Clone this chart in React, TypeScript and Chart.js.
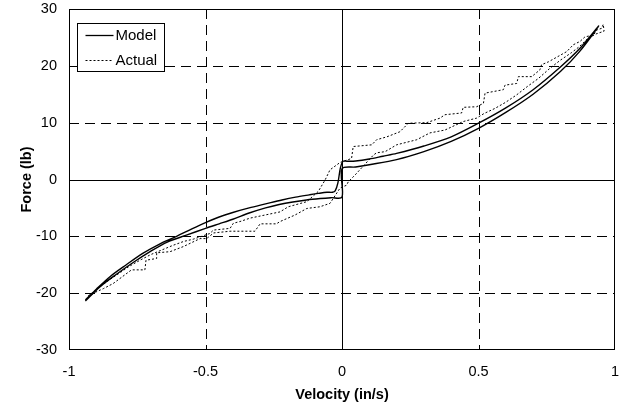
import React, { useEffect, useRef } from 'react';
import { Chart, registerables } from 'chart.js';

Chart.register(...registerables);

// ---- data ----
const seriesNames = ['Model', 'Actual'];
const xTitle = 'Velocity (in/s)';
const yTitle = 'Force (lb)';

const xTickValues = [-1, -0.5, 0, 0.5, 1];
const xTickLabels = ['-1', '-0.5', '0', '0.5', '1'];
const yTickValues = [-30, -20, -10, 0, 10, 20, 30];
const yTickLabels = ['-30', '-20', '-10', '0', '10', '20', '30'];

// Model hysteresis loop: upper branch (increasing velocity) then lower branch back
const modelVelocity = [
  -0.94, -0.9, -0.85, -0.79, -0.73, -0.67, -0.606, -0.55, -0.5, -0.45, -0.4, -0.34, -0.28, -0.22, -0.17, -0.12,
  -0.087, -0.055, -0.035, -0.025, -0.015, -0.006, 0.004, 0.02, 0.05, 0.1, 0.15, 0.2, 0.3, 0.4, 0.5, 0.6, 0.7,
  0.8, 0.87, 0.94,
  0.87, 0.8, 0.7, 0.6, 0.5, 0.4, 0.3, 0.2, 0.1, 0.05, 0.0, 0.0, -0.04, -0.08, -0.13, -0.18, -0.23, -0.28, -0.34,
  -0.4, -0.45, -0.5, -0.57, -0.64, -0.7, -0.765, -0.83, -0.887, -0.94,
];
const modelForce = [
  -21.2, -19.3, -17.1, -15.0, -13.0, -11.4, -10.0, -8.7, -7.6, -6.6, -5.8, -5.0, -4.3, -3.6, -3.1, -2.7,
  -2.45, -2.25, -2.25, -2.0, -0.6, 2.0, 3.2, 3.2, 3.25, 3.6, 4.1, 4.6, 5.9, 7.5, 9.9, 12.6, 15.8,
  19.8, 23.0, 27.0,
  22.5, 19.0, 15.0, 11.8, 9.0, 6.7, 4.9, 3.5, 2.6, 2.2, 1.9, -3.1, -3.2, -3.35, -3.6, -3.95, -4.4, -5.0, -5.9,
  -7.0, -7.8, -8.6, -9.8, -11.0, -12.6, -14.6, -16.8, -18.9, -21.4,
];

// Measured (stepped) loop
const actualVelocity = [
  -0.93, -0.89, -0.85, -0.81, -0.78, -0.74, -0.7, -0.66, -0.62, -0.58, -0.545, -0.514, -0.484, -0.471, -0.41,
  -0.398, -0.374, -0.337, -0.227, -0.197, -0.129, -0.087, -0.062, -0.044, -0.007, 0.035, 0.041, 0.109, 0.127,
  0.164, 0.212, 0.243, 0.31, 0.359, 0.377, 0.438, 0.444, 0.493, 0.518, 0.524, 0.591, 0.597, 0.64, 0.646, 0.695,
  0.725, 0.731, 0.756, 0.823, 0.847, 0.872, 0.89, 0.921, 0.933, 0.951, 0.957,
  0.96, 0.93, 0.9, 0.87, 0.84, 0.8, 0.76, 0.72, 0.68, 0.64, 0.6, 0.56, 0.52, 0.493, 0.444, 0.377, 0.322, 0.274,
  0.2, 0.158, 0.127, 0.115, 0.048, 0.023, 0.017, -0.007, -0.044, -0.081, -0.129, -0.172, -0.227, -0.24, -0.3,
  -0.319, -0.41, -0.47, -0.496, -0.52, -0.581, -0.63, -0.679, -0.679, -0.718, -0.722, -0.771, -0.838, -0.874,
  -0.911, -0.93,
];
const actualForce = [
  -20.5, -19.0, -17.6, -16.3, -15.3, -14.2, -13.2, -12.4, -11.6, -10.9, -10.5, -10.0, -9.5, -8.9, -8.6,
  -7.7, -7.4, -6.8, -5.7, -4.8, -3.9, -2.1, -0.1, 1.7, 3.0, 3.7, 5.8, 6.1, 7.0,
  7.5, 8.4, 9.9, 10.0, 10.8, 11.4, 11.7, 12.7, 12.8, 13.4, 15.2, 15.8, 16.6, 16.9, 18.1, 18.1,
  19.3, 20.2, 20.7, 22.5, 23.7, 24.3, 25.1, 25.4, 26.3, 26.6, 27.3,
  26.1, 25.6, 24.8, 23.4, 22.3, 21.0, 19.5, 17.8, 16.4, 14.9, 13.6, 12.5, 11.6, 10.8, 10.2, 8.7, 8.2, 7.0,
  6.1, 4.9, 4.7, 4.3, 0.8, -0.4, -1.0, -1.5, -4.2, -4.8, -5.1, -6.25, -7.4, -7.8, -7.8,
  -9.1, -9.1, -9.4, -10.4, -10.4, -11.8, -12.7, -12.9, -13.9, -14.2, -15.9, -15.9, -18.3, -19.2,
  -20.0, -20.8,
];

const FONT = "'Liberation Sans', Arial, sans-serif";
const CLEAR = 'rgba(0,0,0,0)';

function labelFor(values: number[], labels: string[], v: number) {
  const i = values.findIndex((t) => Math.abs(t - v) < 1e-9);
  return i >= 0 ? labels[i] : '';
}

const gridPlugin = {
  id: 'excelGrid',
  beforeDatasetsDraw(chart: any) {
    const { ctx, chartArea: a, scales } = chart;
    const x = scales.x;
    const y = scales.y;
    ctx.save();
    ctx.strokeStyle = '#000';
    ctx.lineWidth = 1;
    xTickValues.forEach((v) => {
      if (v === -1 || v === 1) return;
      const px = Math.round(x.getPixelForValue(v)) + 0.5;
      ctx.setLineDash(v === 0 ? [] : [10, 6]);
      ctx.beginPath();
      ctx.moveTo(px, a.top);
      ctx.lineTo(px, a.bottom);
      ctx.stroke();
    });
    yTickValues.forEach((v) => {
      if (v === -30 || v === 30) return;
      const py = Math.round(y.getPixelForValue(v)) + 0.5;
      ctx.setLineDash(v === 0 ? [] : [10, 6]);
      ctx.beginPath();
      ctx.moveTo(a.left, py);
      ctx.lineTo(a.right, py);
      ctx.stroke();
    });
    ctx.setLineDash([]);
    ctx.strokeRect(Math.round(a.left) + 0.5, Math.round(a.top) + 0.5, Math.round(a.right - a.left) - 1, Math.round(a.bottom - a.top) - 1);
    ctx.restore();
  },
};

const legendPlugin = {
  id: 'boxLegend',
  afterDraw(chart: any) {
    const { ctx, chartArea: a } = chart;
    const bx = Math.round(a.left) + 8.5;
    const by = Math.round(a.top) + 14.5;
    const bw = 87;
    const bh = 48;
    ctx.save();
    ctx.fillStyle = '#fff';
    ctx.fillRect(bx, by, bw, bh);
    ctx.strokeStyle = '#000';
    ctx.lineWidth = 1;
    ctx.setLineDash([]);
    ctx.strokeRect(bx, by, bw, bh);
    const rows = [by + 12, by + 37];
    ctx.font = `15px ${FONT}`;
    ctx.fillStyle = '#000';
    ctx.textBaseline = 'middle';
    ctx.textAlign = 'left';
    seriesNames.forEach((name, i) => {
      const yy = rows[i];
      ctx.beginPath();
      ctx.lineWidth = i === 0 ? 1.3 : 1;
      ctx.setLineDash(i === 0 ? [] : [2, 2]);
      ctx.moveTo(bx + 8, yy);
      ctx.lineTo(bx + 36, yy);
      ctx.stroke();
      ctx.setLineDash([]);
      ctx.fillText(name, bx + 38, yy);
    });
    ctx.restore();
  },
};

export default function App() {
  const canvasRef = useRef<HTMLCanvasElement | null>(null);

  useEffect(() => {
    const canvas = canvasRef.current;
    if (!canvas) return;
    const modelPoints = modelVelocity.map((v, i) => ({ x: v, y: modelForce[i] }));
    const actualPoints = actualVelocity.map((v, i) => ({ x: v, y: actualForce[i] }));

    const chart = new Chart(canvas, {
      type: 'scatter',
      data: {
        datasets: [
          {
            label: seriesNames[0],
            data: modelPoints,
            showLine: true,
            borderColor: '#000',
            borderWidth: 1.4,
            pointRadius: 0,
            tension: 0.3,
            fill: false,
          },
          {
            label: seriesNames[1],
            data: actualPoints,
            showLine: true,
            borderColor: '#000',
            borderWidth: 1,
            borderDash: [2, 2],
            pointRadius: 0,
            tension: 0,
            fill: false,
          },
        ],
      },
      options: {
        animation: false,
        responsive: false,
        maintainAspectRatio: false,
        layout: { padding: { left: 0, top: 9, right: 6, bottom: 0 } },
        plugins: { legend: { display: false }, tooltip: { enabled: false } },
        scales: {
          x: {
            type: 'linear',
            min: -1,
            max: 1,
            afterFit: (s: any) => {
              s.height = 59;
            },
            ticks: {
              stepSize: 0.5,
              padding: 0,
              color: '#000',
              font: { size: 14.5, family: FONT },
              maxRotation: 0,
              callback: (v: any) => labelFor(xTickValues, xTickLabels, Number(v)),
            },
            grid: { display: true, drawOnChartArea: false, drawTicks: true, tickLength: 13, color: CLEAR, tickColor: CLEAR },
            border: { display: false },
            title: {
              display: true,
              text: xTitle,
              color: '#000',
              font: { size: 14.5, weight: 'bold', family: FONT },
              padding: { top: 0, bottom: 5 },
            },
          },
          y: {
            type: 'linear',
            min: -30,
            max: 30,
            afterFit: (s: any) => {
              s.width = 69;
            },
            ticks: {
              stepSize: 10,
              padding: 0,
              color: '#000',
              font: { size: 14.5, family: FONT },
              callback: (v: any) => labelFor(yTickValues, yTickLabels, Number(v)),
            },
            grid: { display: true, drawOnChartArea: false, drawTicks: true, tickLength: 12, color: CLEAR, tickColor: CLEAR },
            border: { display: false },
            title: {
              display: true,
              text: yTitle,
              color: '#000',
              font: { size: 14.5, weight: 'bold', family: FONT },
              padding: { top: 18, bottom: 0 },
            },
          },
        },
      },
      plugins: [gridPlugin, legendPlugin],
    });
    return () => chart.destroy();
  }, []);

  return (
    <div style={{ position: 'absolute', left: 0, top: 0, width: 621, height: 409, background: '#fff' }}>
      <canvas ref={canvasRef} width={621} height={409} style={{ display: 'block' }} />
    </div>
  );
}
